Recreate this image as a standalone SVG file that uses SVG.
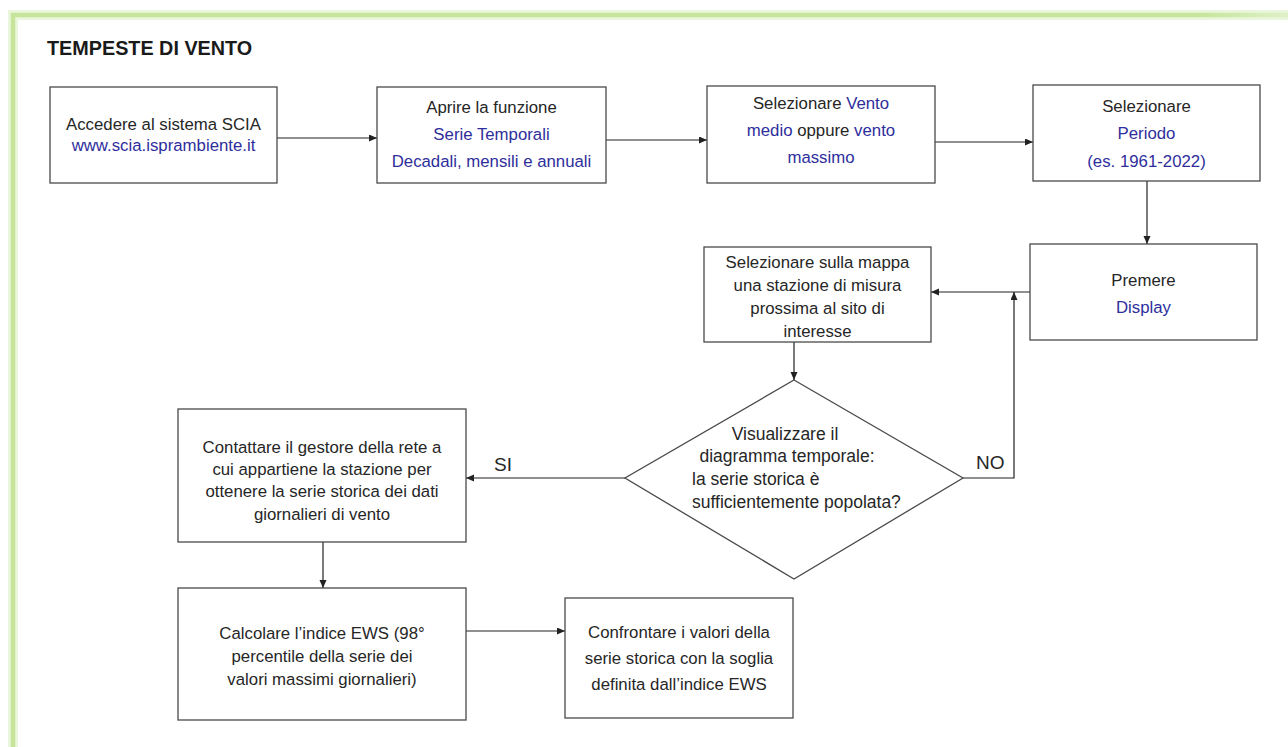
<svg xmlns="http://www.w3.org/2000/svg" width="1288" height="747" viewBox="0 0 1288 747">
<defs>
<style>
.box{fill:#fff;stroke:#4a4a4a;stroke-width:1.3}
.t{font-family:"Liberation Sans",Arial,sans-serif;font-size:16.8px;fill:#262626;text-anchor:middle}
.d{font-size:17.5px}
.b{fill:#2e2e9c}
.c{fill:none;stroke:#222;stroke-width:1.2;marker-end:url(#ah)}
.lbl{font-family:"Liberation Sans",Arial,sans-serif;font-size:19px;fill:#262626}
</style>
<marker id="ah" markerUnits="userSpaceOnUse" markerWidth="9" markerHeight="8" refX="8" refY="3.5" orient="auto">
<path d="M0,0 L8,3.5 L0,7 z" fill="#222"/>
</marker>
<linearGradient id="fadeR" x1="0" y1="0" x2="1" y2="0">
<stop offset="0" stop-color="#c6e59b"/>
<stop offset="0.93" stop-color="#c6e59b"/>
<stop offset="1" stop-color="#c6e59b" stop-opacity="0.3"/>
</linearGradient>
</defs>
<rect width="1288" height="747" fill="#fff"/>
<g id="frame">
<path d="M13,747 V15 H1288" fill="none" stroke="#eaf6dc" stroke-width="10"/>
<path d="M13,747 V15 H1288" fill="none" stroke="url(#fadeR)" stroke-width="4.5"/>
</g>
<text id="title" x="47" y="55" font-family="'Liberation Sans',Arial,sans-serif" font-size="19.8" font-weight="bold" fill="#1a1a1a">TEMPESTE DI VENTO</text>
<g id="connectors">
<path class="c" d="M277,138 H377"/>
<path class="c" d="M606,140 H707"/>
<path class="c" d="M935,142 H1033"/>
<path class="c" d="M1147,181 V244"/>
<path class="c" d="M1030,292 H931"/>
<path class="c" d="M963,478 H1014 V292"/>
<path class="c" d="M794,342 V380"/>
<path class="c" d="M625,478 H466"/>
<path class="c" d="M323,542 V588"/>
<path class="c" d="M466,631 H565"/>
<text class="lbl" x="494" y="471">SI</text>
<text class="lbl" x="976" y="469">NO</text>
</g>
<g id="n1">
<rect class="box" x="50" y="87" width="227" height="96"/>
<text class="t" x="163.5" y="130">Accedere al sistema SCIA</text>
<text class="t b" x="163.5" y="151">www.scia.isprambiente.it</text>
</g>
<g id="n2">
<rect class="box" x="377" y="87" width="229" height="96"/>
<text class="t" x="491.5" y="113">Aprire la funzione</text>
<text class="t b" x="491.5" y="140">Serie Temporali</text>
<text class="t b" x="491.5" y="167">Decadali, mensili e annuali</text>
</g>
<g id="n3">
<rect class="box" x="707" y="86" width="228" height="97"/>
<text class="t" x="821" y="109">Selezionare <tspan class="b">Vento</tspan></text>
<text class="t" x="821" y="136"><tspan class="b">medio</tspan> oppure <tspan class="b">vento</tspan></text>
<text class="t b" x="821" y="163">massimo</text>
</g>
<g id="n4">
<rect class="box" x="1033" y="85" width="227" height="96"/>
<text class="t" x="1146.5" y="112">Selezionare</text>
<text class="t b" x="1146.5" y="139">Periodo</text>
<text class="t b" x="1146.5" y="167">(es. 1961-2022)</text>
</g>
<g id="n5">
<rect class="box" x="1030" y="244" width="227" height="96"/>
<text class="t" x="1143.5" y="286">Premere</text>
<text class="t b" x="1143.5" y="313">Display</text>
</g>
<g id="n6">
<rect class="box" x="704" y="247" width="227" height="95"/>
<text class="t" x="817.5" y="268">Selezionare sulla mappa</text>
<text class="t" x="817.5" y="291">una stazione di misura</text>
<text class="t" x="817.5" y="314">prossima al sito di</text>
<text class="t" x="817.5" y="337">interesse</text>
</g>
<g id="n7">
<polygon class="box" points="794,380 963,478 794,579 625,478"/>
<text class="t d" x="785" y="440">Visualizzare il</text>
<text class="t d" x="787" y="462">diagramma temporale:</text>
<text class="t d" x="692" y="485" style="text-anchor:start">la serie storica è</text>
<text class="t d" x="692" y="508" style="text-anchor:start">sufficientemente popolata?</text>
</g>
<g id="n8">
<rect class="box" x="178" y="409" width="288" height="133"/>
<text class="t" x="322" y="453">Contattare il gestore della rete a</text>
<text class="t" x="322" y="475">cui appartiene la stazione per</text>
<text class="t" x="322" y="497">ottenere la serie storica dei dati</text>
<text class="t" x="322" y="520">giornalieri di vento</text>
</g>
<g id="n9">
<rect class="box" x="178" y="588" width="288" height="132"/>
<text class="t" x="322" y="639">Calcolare l’indice EWS (98°</text>
<text class="t" x="322" y="662">percentile della serie dei</text>
<text class="t" x="322" y="685">valori massimi giornalieri)</text>
</g>
<g id="n10">
<rect class="box" x="565" y="598" width="228" height="120"/>
<text class="t" x="679" y="638">Confrontare i valori della</text>
<text class="t" x="679" y="664">serie storica con la soglia</text>
<text class="t" x="679" y="690">definita dall’indice EWS</text>
</g>
</svg>
